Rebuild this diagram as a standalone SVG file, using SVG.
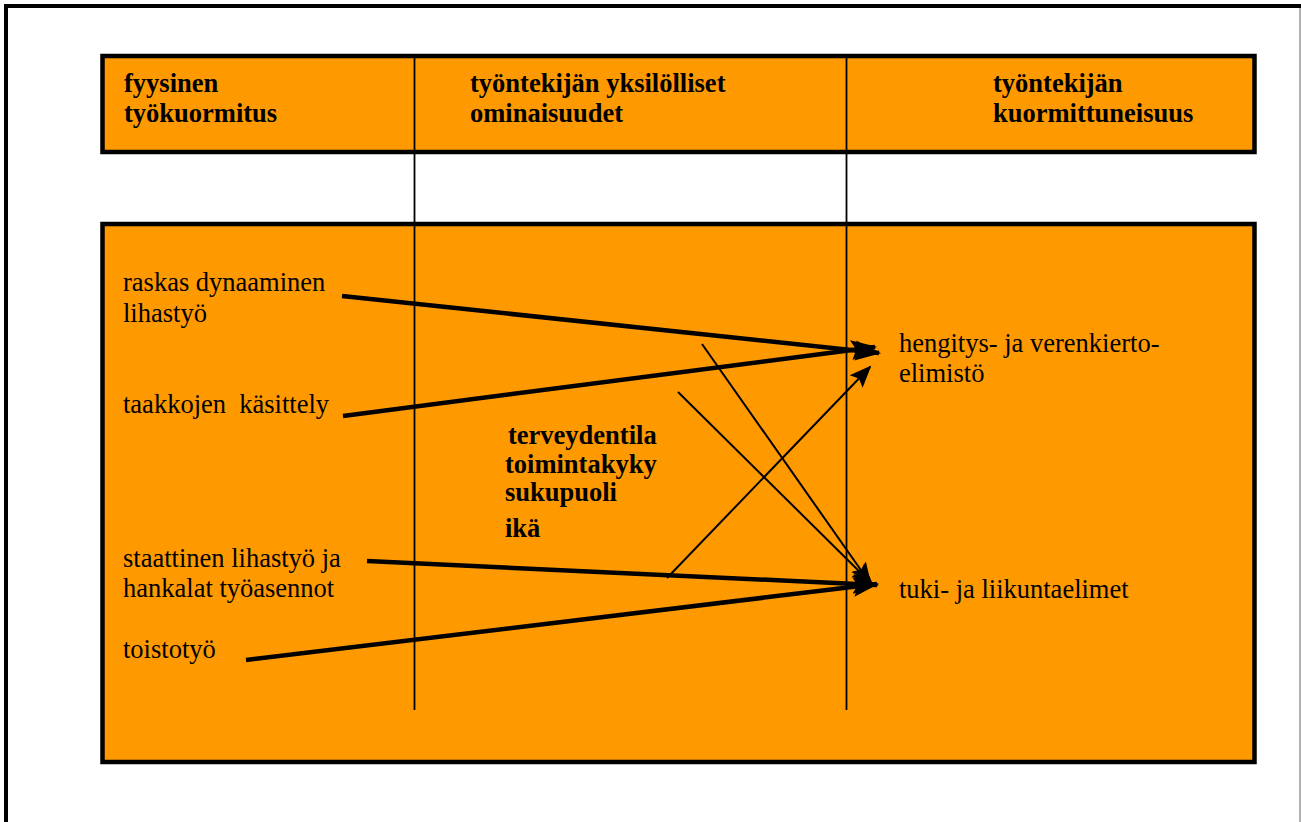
<svg xmlns="http://www.w3.org/2000/svg" width="1301" height="822" viewBox="0 0 1301 822">
<style>
.box{fill:#ff9900;stroke:#000;stroke-width:4.5}
.hd{font-family:"Liberation Serif","Times New Roman",serif;font-weight:bold;font-size:26.5px;fill:#000}
.tx{font-family:"Liberation Serif","Times New Roman",serif;font-size:26.5px;fill:#000}
.div{stroke:#000;stroke-width:1.8;fill:none}
.thick{stroke:#000;stroke-width:4.5;fill:none}
.thin{stroke:#000;stroke-width:2;fill:none}
</style>
<defs>
<marker id="ah" markerUnits="userSpaceOnUse" markerWidth="26" markerHeight="22" refX="24" refY="10" orient="auto" viewBox="0 0 26 20">
<path d="M0,0 L26,10 L0,20 L5,10 Z" fill="#000"/>
</marker>
<marker id="as" markerUnits="userSpaceOnUse" markerWidth="22" markerHeight="20" refX="20" refY="9" orient="auto" viewBox="0 0 22 18">
<path d="M0,0 L22,9 L0,18 L4,9 Z" fill="#000"/>
</marker>
</defs>
<rect x="0" y="0" width="1301" height="822" fill="#fff"/>
<g id="frame">
<path d="M6,822 V6 H1301" fill="none" stroke="#000" stroke-width="4"/>
<line x1="1300" y1="8" x2="1300" y2="822" stroke="#999" stroke-width="1.5"/>
</g>
<g id="header">
<rect class="box" x="102.5" y="56" width="1152" height="96"/>
<text class="hd" x="124" y="92">fyysinen</text>
<text class="hd" x="124" y="122">työkuormitus</text>
<text class="hd" x="470" y="92">työntekijän yksilölliset</text>
<text class="hd" x="470" y="122">ominaisuudet</text>
<text class="hd" x="993" y="92">työntekijän</text>
<text class="hd" x="993" y="122">kuormittuneisuus</text>
</g>
<g id="body">
<rect class="box" x="102.5" y="224" width="1152" height="538"/>
</g>
<g id="dividers">
<line class="div" x1="414.5" y1="58" x2="414.5" y2="710"/>
<line class="div" x1="846.5" y1="58" x2="846.5" y2="710"/>
</g>
<g id="n-raskas"><text class="tx" x="123" y="291">raskas dynaaminen</text><text class="tx" x="123" y="322">lihastyö</text></g>
<g id="n-taakkojen"><text class="tx" x="123" y="413" xml:space="preserve">taakkojen  käsittely</text></g>
<g id="n-staattinen"><text class="tx" x="123" y="567">staattinen lihastyö ja</text><text class="tx" x="123" y="597">hankalat työasennot</text></g>
<g id="n-toistotyo"><text class="tx" x="123" y="658">toistotyö</text></g>
<g id="n-ominaisuudet">
<text class="hd" x="508" y="444">terveydentila</text>
<text class="hd" x="505" y="473">toimintakyky</text>
<text class="hd" x="505" y="501">sukupuoli</text>
<text class="hd" x="505" y="537">ikä</text>
</g>
<g id="n-hengitys"><text class="tx" x="899" y="352">hengitys- ja verenkierto-</text><text class="tx" x="899" y="382">elimistö</text></g>
<g id="n-tuki"><text class="tx" x="899" y="598">tuki- ja liikuntaelimet</text></g>
<g id="connectors">
<line class="thick" x1="342" y1="296" x2="879" y2="353" marker-end="url(#ah)"/>
<line class="thick" x1="343" y1="416" x2="875" y2="347" marker-end="url(#ah)"/>
<line class="thin" x1="667" y1="578" x2="870" y2="367" marker-end="url(#as)"/>
<line class="thin" x1="702" y1="344" x2="870" y2="583" marker-end="url(#as)"/>
<line class="thin" x1="678" y1="392" x2="872" y2="584" marker-end="url(#as)"/>
<line class="thick" x1="367" y1="561" x2="877" y2="585" marker-end="url(#ah)"/>
<line class="thick" x1="246" y1="660" x2="877" y2="584" marker-end="url(#ah)"/>
</g>
</svg>
